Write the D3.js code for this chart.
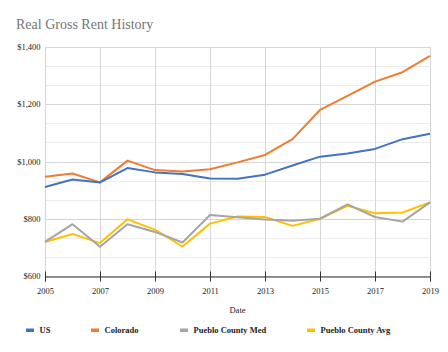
<!DOCTYPE html>
<html>
<head>
<meta charset="utf-8">
<script src="https://cdn.jsdelivr.net/npm/d3@7"></script>
<style>
  body { margin: 0; background: #fff; }
  text { font-family: "Liberation Serif", "DejaVu Serif", serif; }
</style>
</head>
<body>
<div id="chart"></div>
<script>
// values
const years = [2005, 2006, 2007, 2008, 2009, 2010, 2011, 2012, 2013, 2014, 2015, 2016, 2017, 2018, 2019];
const us = [911, 937, 927, 977, 962, 956, 941, 940, 954, 986, 1017, 1028, 1044, 1078, 1097];
const colorado = [947, 958, 927, 1003, 970, 965, 973, 997, 1023, 1078, 1180, 1229, 1279, 1312, 1369];
const puebloMed = [719, 781, 702, 781, 754, 717, 813, 805, 797, 793, 800, 850, 806, 790, 857];
const puebloAvg = [719, 747, 715, 798, 762, 703, 783, 808, 806, 775, 800, 845, 819, 822, 857];
const seriesNames = ["US", "Colorado", "Pueblo County Med", "Pueblo County Avg"];
const seriesColors = ["#4472c4", "#ed7d31", "#a5a5a5", "#ffc000"];
const yTicks = [600, 800, 1000, 1200, 1400];
const xTicks = [2005, 2007, 2009, 2011, 2013, 2015, 2017, 2019];

const width = 448
const height = 352
const margin = { top: 47, right: 18, bottom: 76, left: 45 }

const svg = d3.select("#chart")
  .append("svg")
  .attr("width", width)
  .attr("height", height)

svg.append("text")
  .attr("x", 16)
  .attr("y", 29)
  .attr("fill", "#757575")
  .attr("font-size", "14px")
  .text("Real Gross Rent History")

const x = d3.scaleLinear()
  .domain([2005, 2019])
  .range([margin.left, width - margin.right])

const y = d3.scaleLinear()
  .domain([600, 1400])
  .range([height - margin.bottom, margin.top])

// minor horizontal grid (3 steps per $200)
const minor = d3.range(600, 1400.1, 200 / 3)
svg.append("g")
  .selectAll("line")
  .data(minor)
  .enter()
  .append("line")
  .attr("x1", x(2005))
  .attr("x2", x(2019))
  .attr("y1", d => Math.round(y(d)) + 0.5)
  .attr("y2", d => Math.round(y(d)) + 0.5)
  .attr("stroke", "#ebebeb")

// vertical grid
svg.append("g")
  .selectAll("line")
  .data(xTicks)
  .enter()
  .append("line")
  .attr("x1", d => Math.round(x(d)) + 0.5)
  .attr("x2", d => Math.round(x(d)) + 0.5)
  .attr("y1", y(1400))
  .attr("y2", y(600))
  .attr("stroke", "#d6d6d6")

// major horizontal grid
svg.append("g")
  .selectAll("line")
  .data(yTicks)
  .enter()
  .append("line")
  .attr("x1", x(2005))
  .attr("x2", x(2019))
  .attr("y1", d => Math.round(y(d)) + 0.5)
  .attr("y2", d => Math.round(y(d)) + 0.5)
  .attr("stroke", "#d6d6d6")

// y labels
svg.append("g")
  .selectAll("text")
  .data(yTicks)
  .enter()
  .append("text")
  .attr("x", 40.5)
  .attr("y", d => y(d) + 3)
  .attr("text-anchor", "end")
  .attr("font-size", "8.5px")
  .attr("fill", "#222")
  .text(d => d3.format("$,")(d))

// x axis
const xAxis = d3.axisBottom(x)
  .tickValues(xTicks)
  .tickFormat(d3.format("d"))
  .tickSize(5)
  .tickPadding(6)

const gx = svg.append("g")
  .attr("transform", "translate(0," + (Math.round(y(600)) + 0.5) + ")")
  .call(xAxis)
gx.select(".domain").attr("stroke", "#333")
gx.selectAll(".tick line").attr("stroke", "#333").attr("y1", -5)
gx.selectAll(".tick text")
  .attr("font-family", "Liberation Serif, serif")
  .attr("font-size", "8.5px")
  .attr("fill", "#222")

svg.append("text")
  .attr("x", (x(2005) + x(2019)) / 2)
  .attr("y", 313)
  .attr("text-anchor", "middle")
  .attr("font-size", "8.5px")
  .attr("fill", "#222")
  .text("Date")

const allSeries = [us, colorado, puebloMed, puebloAvg]

const line = d3.line()
  .x((d, i) => x(years[i]))
  .y(d => y(d))

// draw in reverse so US sits on top
svg.append("g")
  .selectAll("path")
  .data(allSeries.map((v, i) => ({ v: v, i: i })).reverse())
  .enter()
  .append("path")
  .attr("fill", "none")
  .attr("stroke", d => seriesColors[d.i])
  .attr("stroke-width", 2)
  .attr("stroke-linejoin", "round")
  .attr("d", d => line(d.v))

// legend
const legendX = [26, 91, 180, 307]
const legend = svg.append("g")
  .selectAll("g")
  .data(seriesNames)
  .enter()
  .append("g")
  .attr("transform", (d, i) => "translate(" + legendX[i] + ",330)")

legend.append("rect")
  .attr("x", 0)
  .attr("y", -1.5)
  .attr("width", 8)
  .attr("height", 3.5)
  .attr("fill", (d, i) => seriesColors[i])

legend.append("text")
  .attr("x", 13.5)
  .attr("y", 3)
  .attr("font-size", "8.5px")
  .attr("font-weight", "bold")
  .attr("fill", "#222")
  .text(d => d)
</script>
</body>
</html>
